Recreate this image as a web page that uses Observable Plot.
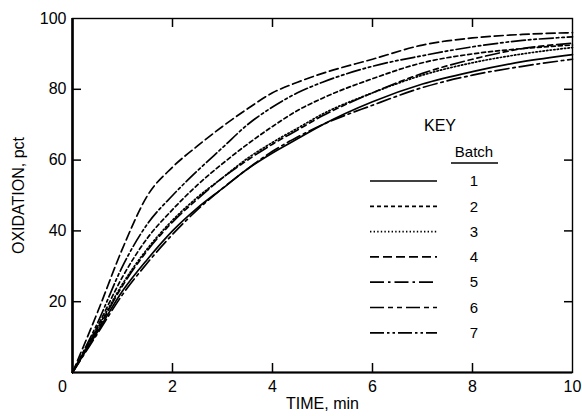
<!DOCTYPE html>
<html><head><meta charset="utf-8">
<script src="https://cdn.jsdelivr.net/npm/d3@7"></script>
<script src="https://cdn.jsdelivr.net/npm/@observablehq/plot@0.6"></script>
<style>
body{margin:0;background:#fff;}
#wrap{position:relative;width:582px;height:416px;}
#wrap svg{font-family:"Liberation Sans",Arial,Helvetica,sans-serif;}
#legend{position:absolute;left:0;top:0;pointer-events:none;}
</style></head><body><div id="wrap"></div>
<script>
// Time, min
const timeMin = [0, 0.5, 1, 1.5, 2, 2.5, 3, 3.5, 4, 4.5, 5, 6, 7, 8, 9, 10];
// Oxidation, pct, per batch
const batch1 = [0, 11.5, 23, 32, 40, 46.5, 52, 57.5, 62, 66, 70, 76.5, 81.5, 85, 87.8, 89.8];
const batch2 = [0, 13, 27, 38, 46, 53, 59, 64.5, 69.5, 74, 77.5, 83, 87.5, 90, 91.5, 92.5];
const batch3 = [0, 12.5, 25, 35, 43, 49.5, 55, 60.5, 65, 69, 73, 79, 84, 87.5, 90, 91.8];
const batch4 = [0, 17, 35, 50, 58, 64, 69.5, 74.5, 79, 82, 84.5, 88.5, 92.5, 94.5, 95.5, 96];
const batch5 = [0, 11, 22, 31, 39, 46, 52, 57.5, 62.5, 66.5, 70, 75.5, 80.5, 84, 86.5, 88.5];
const batch6 = [0, 12, 24.5, 34.5, 42.5, 49, 55, 60, 64.5, 68.5, 72.5, 79, 84.5, 88.5, 91.5, 93];
const batch7 = [0, 14, 30, 42, 50, 57, 63.5, 70, 75, 79, 82, 86.5, 89.5, 92, 93.8, 94.8];
const batchLabels = ["1", "2", "3", "4", "5", "6", "7"];
const xTickValues = [0, 2, 4, 6, 8, 10];
const yTickValues = [20, 40, 60, 80, 100];
const xTitle = "TIME, min";
const yTitle = "OXIDATION, pct";
const keyTitle = "KEY";
const keySubtitle = "Batch";

const series = [batch1, batch2, batch3, batch4, batch5, batch6, batch7];
const dashStyles = [null, "4,3", "1.4,2.2", "9,4", "14,4,2.5,4", "14,4,5,4,5,4", "14,3,2.5,3,2.5,3"];

const rows = series.flatMap((vals, i) => vals.map((v, j) => ({batch: batchLabels[i], t: timeMin[j], ox: v})));

const W = 582, H = 416, mL = 72, mR = 10, mT = 18, mB = 44;
const innerW = W - mL - mR, innerH = H - mT - mB;
const tickLen = 9;
const font = 16;
const marks = [
  Plot.frame({stroke: "#000", strokeWidth: 1.4}),
  Plot.ruleX([0], {stroke: "#000", strokeWidth: 2.6}),
  Plot.ruleY([0], {stroke: "#000", strokeWidth: 2})
];
batchLabels.forEach((b, i) => {
  const opts = {x: "t", y: "ox", curve: "monotone-x", stroke: "#000", strokeWidth: 1.7};
  if (dashStyles[i]) opts.strokeDasharray = dashStyles[i];
  marks.push(Plot.line(rows.filter(d => d.batch === b), opts));
});
const innerX = xTickValues.filter(v => v > 0 && v < 10);
const innerY = yTickValues.filter(v => v < 100);
marks.push(
  // inward ticks
  Plot.ruleX(innerX, {stroke: "#000", strokeWidth: 1.5, insetTop: innerH - tickLen}),
  Plot.ruleX(innerX, {stroke: "#000", strokeWidth: 1.5, insetBottom: innerH - tickLen}),
  Plot.ruleY(innerY, {stroke: "#000", strokeWidth: 1.5, insetRight: innerW - tickLen}),
  Plot.ruleY(innerY, {stroke: "#000", strokeWidth: 1.5, insetLeft: innerW - tickLen + 1}),
  Plot.axisX(xTickValues.filter(v => v > 0), {anchor: "bottom", tickSize: 0, tickPadding: 8, fontSize: font, label: xTitle, labelAnchor: "center", labelOffset: 36, labelArrow: "none"}),
  Plot.axisX([0], {anchor: "bottom", tickSize: 0, tickPadding: 8, fontSize: font, dx: -10, label: null}),
  Plot.axisY(yTickValues, {anchor: "left", tickSize: 0, tickPadding: 6, fontSize: font, label: yTitle, labelAnchor: "center", labelOffset: 60, labelArrow: "none"})
);

const chart = Plot.plot({
  width: W, height: H,
  marginLeft: mL, marginRight: mR, marginTop: mT, marginBottom: mB,
  x: {domain: [0, 10]},
  y: {domain: [0, 100]},
  style: {fontFamily: '"Liberation Sans", Arial, sans-serif', fontSize: "15px", color: "#000", background: "#fff"},
  marks
});
const wrap = document.getElementById("wrap");
wrap.appendChild(chart);

// Key (legend) overlay
const svg = d3.select(wrap).append("svg").attr("id", "legend").attr("width", W).attr("height", H)
  .attr("font-family", '"Liberation Sans", Arial, sans-serif');
svg.append("text").attr("x", 440).attr("y", 125).attr("dy", "0.35em").attr("text-anchor", "middle").attr("font-size", 16).text(keyTitle);
svg.append("text").attr("x", 474).attr("y", 152).attr("dy", "0.35em").attr("text-anchor", "middle").attr("font-size", 15).text(keySubtitle);
svg.append("line").attr("x1", 451).attr("x2", 498).attr("y1", 163).attr("y2", 163).attr("stroke", "#000").attr("stroke-width", 1.5);
batchLabels.forEach((b, i) => {
  const y = 181 + i * 25.3;
  const ln = svg.append("line").attr("x1", 370).attr("x2", 437).attr("y1", y).attr("y2", y).attr("stroke", "#000").attr("stroke-width", 1.7);
  if (dashStyles[i]) ln.attr("stroke-dasharray", dashStyles[i]);
  svg.append("text").attr("x", 474).attr("y", y).attr("dy", "0.35em").attr("text-anchor", "middle").attr("font-size", 15).text(b);
});
</script></body></html>
